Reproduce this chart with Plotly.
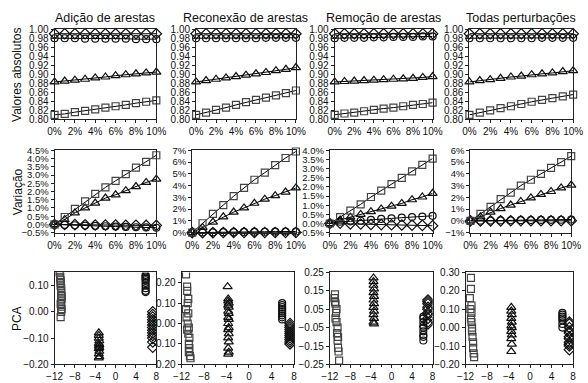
import plotly.graph_objects as go

W, H = 588, 383
FONT = "Liberation Sans, Arial, sans-serif"

titles = ["Adição de arestas", "Reconexão de arestas", "Remoção de arestas", "Todas perturbações"]
row_titles = ["Valores absolutos", "Variação", "PCA"]

pert = [0, 1, 2, 3, 4, 5, 6, 7, 8, 9, 10]  # % perturbation
pert_ticks = [0, 2, 4, 6, 8, 10]
pert_labels = ["0%", "2%", "4%", "6%", "8%", "10%"]

# ---- Row 1: absolute values ----
abs_diamond = [
    [0.990, 0.990, 0.990, 0.990, 0.990, 0.990, 0.990, 0.990, 0.990, 0.990, 0.990],
    [0.990, 0.990, 0.990, 0.990, 0.990, 0.990, 0.990, 0.990, 0.990, 0.990, 0.990],
    [0.990, 0.990, 0.990, 0.990, 0.990, 0.990, 0.990, 0.990, 0.990, 0.990, 0.990],
    [0.990, 0.990, 0.990, 0.990, 0.990, 0.990, 0.990, 0.990, 0.990, 0.990, 0.990],
]
abs_circle = [
    [0.980, 0.980, 0.980, 0.979, 0.979, 0.979, 0.979, 0.979, 0.978, 0.978, 0.978],
    [0.980, 0.980, 0.980, 0.980, 0.980, 0.980, 0.980, 0.981, 0.981, 0.981, 0.981],
    [0.980, 0.981, 0.981, 0.981, 0.982, 0.982, 0.983, 0.983, 0.983, 0.984, 0.984],
    [0.980, 0.980, 0.980, 0.980, 0.980, 0.980, 0.980, 0.981, 0.981, 0.981, 0.981],
]
abs_triangle = [
    [0.883, 0.885, 0.887, 0.889, 0.892, 0.894, 0.897, 0.899, 0.901, 0.903, 0.905],
    [0.883, 0.886, 0.889, 0.892, 0.895, 0.898, 0.901, 0.904, 0.908, 0.911, 0.915],
    [0.883, 0.884, 0.885, 0.886, 0.887, 0.888, 0.889, 0.890, 0.891, 0.893, 0.895],
    [0.883, 0.886, 0.888, 0.891, 0.894, 0.896, 0.899, 0.901, 0.903, 0.906, 0.908],
]
abs_square = [
    [0.810, 0.812, 0.816, 0.819, 0.822, 0.826, 0.829, 0.832, 0.836, 0.839, 0.842],
    [0.810, 0.815, 0.821, 0.826, 0.832, 0.838, 0.843, 0.848, 0.853, 0.858, 0.864],
    [0.810, 0.813, 0.815, 0.818, 0.821, 0.824, 0.826, 0.829, 0.832, 0.834, 0.837],
    [0.810, 0.815, 0.820, 0.825, 0.829, 0.834, 0.839, 0.843, 0.847, 0.851, 0.855],
]
abs_ticks = [0.80, 0.82, 0.84, 0.86, 0.88, 0.90, 0.92, 0.94, 0.96, 0.98, 1.00]
abs_labels = ["0.80", "0.82", "0.84", "0.86", "0.88", "0.90", "0.92", "0.94", "0.96", "0.98", "1.00"]

# ---- Row 2: variation (%) ----
var_diamond = [
    [0, 0.00, -0.01, -0.02, -0.03, -0.03, -0.04, -0.05, -0.05, -0.06, -0.06],
    [0, 0.00, 0.00, 0.01, 0.01, 0.01, 0.01, 0.02, 0.02, 0.02, 0.02],
    [0, 0.02, -0.02, -0.03, -0.05, -0.06, -0.07, -0.08, -0.09, -0.10, -0.12],
    [0, 0.00, 0.00, 0.00, 0.01, 0.01, 0.01, 0.01, 0.01, 0.01, 0.01],
]
var_circle = [
    [0, -0.03, -0.05, -0.07, -0.09, -0.11, -0.13, -0.15, -0.17, -0.18, -0.20],
    [0, 0.02, 0.03, 0.04, 0.05, 0.06, 0.07, 0.08, 0.09, 0.10, 0.10],
    [0, 0.10, 0.12, 0.15, 0.20, 0.25, 0.28, 0.32, 0.35, 0.38, 0.42],
    [0, 0.02, 0.03, 0.04, 0.05, 0.06, 0.07, 0.08, 0.09, 0.10, 0.12],
]
var_triangle = [
    [0, 0.30, 0.70, 1.00, 1.30, 1.60, 1.80, 2.05, 2.30, 2.55, 2.75],
    [0, 0.45, 0.90, 1.35, 1.75, 2.10, 2.50, 2.85, 3.15, 3.45, 3.80],
    [0, 0.20, 0.35, 0.50, 0.65, 0.80, 0.95, 1.10, 1.30, 1.45, 1.65],
    [0, 0.35, 0.75, 1.05, 1.35, 1.65, 1.95, 2.25, 2.50, 2.80, 3.05],
]
var_square = [
    [0, 0.45, 0.95, 1.40, 1.85, 2.25, 2.65, 3.05, 3.45, 3.80, 4.20],
    [0, 0.80, 1.60, 2.35, 3.10, 3.80, 4.50, 5.10, 5.75, 6.35, 6.90],
    [0, 0.35, 0.70, 1.05, 1.45, 1.80, 2.15, 2.50, 2.85, 3.20, 3.55],
    [0, 0.60, 1.20, 1.85, 2.40, 3.00, 3.50, 4.00, 4.50, 5.00, 5.50],
]
var_ranges = [[-0.5, 4.5], [0, 7], [-0.5, 4.0], [-1, 6]]
var_ticks = [
    [-0.5, 0.0, 0.5, 1.0, 1.5, 2.0, 2.5, 3.0, 3.5, 4.0, 4.5],
    [0, 1, 2, 3, 4, 5, 6, 7],
    [-0.5, 0.0, 0.5, 1.0, 1.5, 2.0, 2.5, 3.0, 3.5, 4.0],
    [-1, 0, 1, 2, 3, 4, 5, 6],
]
var_labels = [
    ["\u22120.5%", "0.0%", "0.5%", "1.0%", "1.5%", "2.0%", "2.5%", "3.0%", "3.5%", "4.0%", "4.5%"],
    ["0%", "1%", "2%", "3%", "4%", "5%", "6%", "7%"],
    ["\u22120.5%", "0.0%", "0.5%", "1.0%", "1.5%", "2.0%", "2.5%", "3.0%", "3.5%", "4.0%"],
    ["\u22121%", "0%", "1%", "2%", "3%", "4%", "5%", "6%"],
]

# ---- Row 3: PCA projections ----
pca_sq_x = [
    [-11.0, -11.0, -10.9, -10.9, -10.8, -10.8, -10.8, -10.7, -10.7, -10.7, -10.6, -10.6, -10.7, -10.8, -10.7, -10.6, -10.7, -10.8],
    [-11.2, -11.0, -11.0, -10.8, -10.9, -11.2, -10.8, -11.1, -10.9, -10.7, -11.0, -10.8, -10.6, -10.7, -10.6, -10.7, -10.5, -10.4],
    [-11.0, -11.1, -11.0, -10.9, -10.7, -10.8, -10.9, -10.7, -10.5, -10.6, -10.4, -10.5, -10.4, -10.3, -10.2],
    [-11.0, -11.0, -11.2, -10.9, -11.1, -10.9, -11.0, -10.9, -10.8, -10.8, -10.7, -10.6, -10.6, -10.5, -10.4],
]
pca_sq_y = [
    [0.16, 0.15, 0.14, 0.13, 0.12, 0.11, 0.10, 0.09, 0.08, 0.07, 0.06, 0.05, 0.04, 0.03, 0.02, 0.01, 0.00, -0.02],
    [0.24, 0.18, 0.16, 0.12, 0.10, 0.07, 0.05, 0.03, 0.00, -0.02, -0.03, -0.05, -0.07, -0.10, -0.12, -0.14, -0.16, -0.17],
    [0.13, 0.11, 0.09, 0.08, 0.05, 0.03, 0.00, -0.02, -0.05, -0.08, -0.10, -0.12, -0.16, -0.18, -0.23],
    [0.27, 0.21, 0.16, 0.12, 0.10, 0.08, 0.05, 0.03, 0.00, -0.02, -0.05, -0.08, -0.11, -0.14, -0.16],
]
pca_tr_x = [
    [-3.3, -3.3, -3.3, -3.2, -3.3, -3.2, -3.3, -3.2, -3.3, -3.2, -3.3, -3.2, -3.3],
    [-3.8, -3.7, -3.7, -3.6, -3.7, -3.6, -3.7, -3.6, -3.7, -3.6, -3.7, -3.6, -3.7, -3.6, -3.7, -3.6, -3.7, -3.6, -3.7],
    [-3.5, -3.5, -3.5, -3.4, -3.5, -3.4, -3.5, -3.4, -3.5, -3.4, -3.5, -3.4, -3.5, -3.4],
    [-3.5, -3.5, -3.4, -3.5, -3.4, -3.5, -3.4, -3.5, -3.4, -3.5, -3.4, -3.5],
]
pca_tr_y = [
    [-0.08, -0.09, -0.10, -0.11, -0.12, -0.125, -0.13, -0.135, -0.14, -0.15, -0.16, -0.17, -0.175],
    [0.18, 0.12, 0.11, 0.10, 0.09, 0.08, 0.06, 0.05, 0.03, 0.02, 0.00, -0.02, -0.03, -0.05, -0.07, -0.09, -0.12, -0.14, -0.15],
    [0.22, 0.20, 0.18, 0.16, 0.14, 0.12, 0.10, 0.08, 0.06, 0.04, 0.02, 0.00, -0.02, -0.03],
    [0.11, 0.09, 0.07, 0.05, 0.03, 0.01, 0.00, -0.02, -0.04, -0.06, -0.09, -0.13],
]
pca_ci_x = [
    [5.9, 5.9, 5.9, 5.9, 5.9, 5.9, 5.9, 5.9, 5.9, 5.9],
    [5.9, 5.9, 5.9, 5.9, 5.9, 5.9, 5.9, 5.9, 5.9],
    [6.2, 6.2, 6.2, 6.2, 6.2, 6.2, 6.2, 6.2, 6.2],
    [6.0, 6.0, 6.0, 6.0, 6.0, 6.0, 6.0],
]
pca_ci_y = [
    [0.14, 0.135, 0.13, 0.125, 0.12, 0.11, 0.10, 0.09, 0.08, 0.075],
    [0.10, 0.09, 0.08, 0.07, 0.06, 0.05, 0.04, 0.03, 0.02],
    [0.01, 0.00, -0.02, -0.04, -0.05, -0.07, -0.09, -0.10, -0.12],
    [0.08, 0.07, 0.06, 0.05, 0.04, 0.02, 0.00],
]
pca_di_x = [
    [7.3, 7.3, 7.3, 7.3, 7.3, 7.3, 7.3, 7.3, 7.3, 7.3, 7.3, 7.3, 7.3],
    [7.3, 7.3, 7.3, 7.3, 7.3, 7.3, 7.3, 7.3, 7.3, 7.3, 7.3],
    [7.1, 7.1, 7.1, 7.1, 7.1, 7.1, 7.1, 7.1, 7.1, 7.1],
    [7.3, 7.3, 7.3, 7.3, 7.3, 7.3, 7.3, 7.3, 7.3, 7.3, 7.3],
]
pca_di_y = [
    [0.00, -0.01, -0.02, -0.03, -0.04, -0.05, -0.06, -0.07, -0.08, -0.09, -0.10, -0.115, -0.135],
    [0.00, -0.01, -0.02, -0.03, -0.04, -0.05, -0.06, -0.07, -0.08, -0.09, -0.10],
    [0.10, 0.09, 0.08, 0.06, 0.05, 0.03, 0.02, 0.00, -0.02, -0.03],
    [0.03, 0.02, 0.00, -0.02, -0.03, -0.05, -0.06, -0.08, -0.09, -0.10, -0.12],
]
pca_ranges = [[-0.2, 0.15], [-0.2, 0.25], [-0.25, 0.25], [-0.2, 0.3]]
pca_ticks = [
    [-0.20, -0.10, 0.00, 0.10],
    [-0.20, -0.10, 0.00, 0.10, 0.20],
    [-0.25, -0.15, -0.05, 0.05, 0.15, 0.25],
    [-0.20, -0.10, 0.00, 0.10, 0.20, 0.30],
]
pca_labels = [
    ["\u22120.20", "\u22120.10", "0.00", "0.10"],
    ["\u22120.20", "\u22120.10", "0.00", "0.10", "0.20"],
    ["\u22120.25", "\u22120.15", "\u22120.05", "0.05", "0.15", "0.25"],
    ["\u22120.20", "\u22120.10", "0.00", "0.10", "0.20", "0.30"],
]
comp_ticks = [-12, -8, -4, 0, 4, 8]
comp_labels = ["\u221212", "\u22128", "\u22124", "0", "4", "8"]

# panel boxes in pixels: (left, right) per row/col, (top, bottom) per row
xpix = [
    [(48, 153), (194, 297), (337, 438), (476, 583)],
    [(48, 153), (190, 297), (332, 438), (477, 581)],
    [(48, 153), (179, 295), (332, 438), (472, 583)],
]
ypix = [(24, 117), (149, 234), (275, 370)]

fig = go.Figure()
layout = {}


def ax_names(r, c):
    i = r * 4 + c + 1
    s = "" if i == 1 else str(i)
    return "x" + s, "y" + s, "xaxis" + s, "yaxis" + s


sym = {"sq": "square-open", "tr": "triangle-up-open", "ci": "circle-open", "di": "diamond-open"}
msize = {"sq": 7, "tr": 8, "ci": 7, "di": 8}
mcol = {"sq": "#444", "tr": "#111", "ci": "#111", "di": "#111"}


def axis(size=10, **kw):
    a = dict(
        showline=True, mirror=True, linecolor="#222", linewidth=1,
        ticks="outside", ticklen=3, tickwidth=1, tickcolor="#222",
        showgrid=False, zeroline=False, tickmode="array", tickangle=0,
        tickfont=dict(family=FONT, size=size, color="#111"),
    )
    a.update(kw)
    return a


for r in range(3):
    for c in range(4):
        xa, ya, xk, yk = ax_names(r, c)
        l, rr = xpix[r][c]
        t, b = ypix[r]
        xdom = [l / W, rr / W]
        ydom = [(H - b) / H, (H - t) / H]
        if r < 2:
            if r == 0:
                series = [("di", abs_diamond[c]), ("ci", abs_circle[c]),
                          ("tr", abs_triangle[c]), ("sq", abs_square[c])]
            else:
                series = [("di", var_diamond[c]), ("ci", var_circle[c]),
                          ("tr", var_triangle[c]), ("sq", var_square[c])]
            for key, vals in series:
                fig.add_trace(go.Scatter(
                    x=pert, y=vals, xaxis=xa, yaxis=ya, mode="lines+markers",
                    line=dict(color="#000", width=1),
                    marker=dict(symbol=sym[key], size=msize[key],
                                color=mcol[key], line=dict(width=1.2)),
                    cliponaxis=False, showlegend=False, hoverinfo="skip"))
            layout[xk] = axis(domain=xdom, anchor=ya, range=[0, 10],
                              tickvals=pert_ticks, ticktext=pert_labels,
                              minor=dict(tickvals=[1, 3, 5, 7, 9], ticks="outside",
                                         ticklen=2, tickcolor="#222"))
            if r == 0:
                layout[yk] = axis(domain=ydom, anchor=xa, range=[0.80, 1.00],
                                  tickvals=abs_ticks, ticktext=abs_labels)
            else:
                layout[yk] = axis(size=9.5, domain=ydom, anchor=xa, range=var_ranges[c],
                                  tickvals=var_ticks[c], ticktext=var_labels[c])
        else:
            groups = [("sq", pca_sq_x[c], pca_sq_y[c]), ("tr", pca_tr_x[c], pca_tr_y[c]),
                      ("ci", pca_ci_x[c], pca_ci_y[c]), ("di", pca_di_x[c], pca_di_y[c])]
            for key, xs, ys in groups:
                fig.add_trace(go.Scatter(
                    x=xs, y=ys, xaxis=xa, yaxis=ya, mode="markers",
                    marker=dict(symbol=sym[key], size=msize[key],
                                color=mcol[key], line=dict(width=1.2)),
                    cliponaxis=True, showlegend=False, hoverinfo="skip"))
            layout[xk] = axis(domain=xdom, anchor=ya, range=[-12, 8],
                              tickvals=comp_ticks, ticktext=comp_labels,
                              minor=dict(tickvals=[-10, -6, -2, 2, 6], ticks="outside",
                                         ticklen=2, tickcolor="#222"))
            layout[yk] = axis(domain=ydom, anchor=xa, range=pca_ranges[c],
                              tickvals=pca_ticks[c], ticktext=pca_labels[c])

annotations = []
for c, txt in enumerate(titles):
    l, rr = xpix[0][c]
    annotations.append(dict(text=txt, x=(l + rr) / 2 / W, y=(H - 12) / H,
                            xref="paper", yref="paper", showarrow=False,
                            font=dict(family=FONT, size=12.5, color="#111"),
                            xanchor="center", yanchor="middle"))
for r, txt in enumerate(row_titles):
    t, b = ypix[r]
    annotations.append(dict(text=txt, x=10 / W, y=(H - (t + b) / 2) / H,
                            xref="paper", yref="paper", showarrow=False, textangle=-90,
                            font=dict(family=FONT, size=12, color="#111"),
                            xanchor="center", yanchor="middle"))

fig.update_layout(
    width=W, height=H, margin=dict(l=0, r=0, t=0, b=0),
    paper_bgcolor="white", plot_bgcolor="white",
    annotations=annotations, **layout)

fig.write_html("out.html")
